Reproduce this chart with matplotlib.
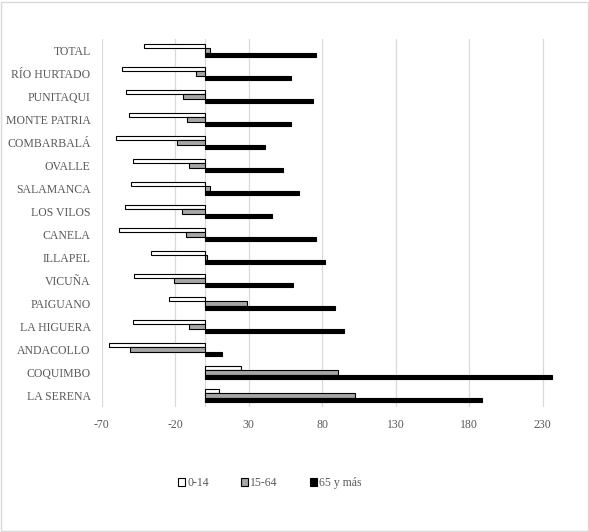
import matplotlib
matplotlib.use("Agg")
import matplotlib.pyplot as plt
from matplotlib.patches import Patch, Rectangle
import numpy as np

# Categories listed bottom to top
categories = ["LA SERENA", "COQUIMBO", "ANDACOLLO", "LA HIGUERA", "PAIGUANO",
              "VICUÑA", "ILLAPEL", "CANELA", "LOS VILOS", "SALAMANCA", "OVALLE",
              "COMBARBALÁ", "MONTE PATRIA", "PUNITAQUI", "RÍO HURTADO", "TOTAL"]
age_0_14 = [10, 25, -65, -49, -24, -48, -36.5, -58, -54, -50, -49, -60, -51.5, -53.5, -56, -41.5]
age_15_64 = [102.5, 90.5, -51, -10.5, 29, -21, 1.8, -12.5, -15.5, 3.5, -10.5, -19, -12, -15, -6, 3.5]
age_65_mas = [189, 236.5, 12, 95, 89, 60, 82, 76, 46, 64, 53, 41, 59, 74, 59, 76]
series_names = ["0-14", "15-64", "65 y más"]
xticks = [-70, -20, 30, 80, 130, 180, 230]

serif = ["Liberation Serif", "DejaVu Serif"]
txt_color = "#595959"
fs = 8.5

fig = plt.figure(figsize=(5.89, 5.32), dpi=100)
ax = fig.add_axes([0.1727, 0.235, 0.7986, 0.6917])

y = np.arange(len(categories))
h = 0.2
ax.barh(y + h, age_0_14, height=h, color="white", edgecolor="black", linewidth=0.8, zorder=3)
ax.barh(y, age_15_64, height=h, color="#a6a6a6", edgecolor="black", linewidth=0.8, zorder=3)
ax.barh(y - h, age_65_mas, height=h, color="black", edgecolor="black", linewidth=0.8, zorder=3)

ax.set_xlim(-70, 250)
ax.set_ylim(-0.5, len(categories) - 0.5)
ax.set_xticks(xticks)
ax.set_xticklabels([str(t) for t in xticks], fontfamily=serif, fontsize=fs, color=txt_color)
ax.set_yticks(y)
ax.set_yticklabels(categories, fontfamily=serif, fontsize=fs, color=txt_color)
ax.tick_params(axis="both", length=0)
ax.tick_params(axis="y", pad=8)
ax.tick_params(axis="x", pad=8.5)
ax.grid(axis="x", color="#d9d9d9", linewidth=0.9, zorder=0)
ax.axvline(0, color="#d9d9d9", linewidth=0.9, zorder=1)
for s in ax.spines.values():
    s.set_visible(False)

handles = [Patch(facecolor="white", edgecolor="black", linewidth=0.8),
           Patch(facecolor="#a6a6a6", edgecolor="black", linewidth=0.8),
           Patch(facecolor="black", edgecolor="black", linewidth=0.8)]
leg = fig.legend(handles, series_names, loc="center", bbox_to_anchor=(0.458, 0.092), ncol=3,
                 frameon=False, handlelength=0.6, handleheight=0.6, handletextpad=0.2,
                 columnspacing=2.7, prop={"family": serif, "size": fs})
for t in leg.get_texts():
    t.set_color(txt_color)

fig.patches.append(Rectangle((0.001, 0.002), 0.997, 0.995, transform=fig.transFigure,
                             fill=False, edgecolor="#d9d9d9", linewidth=1.0))

fig.savefig("out.png", dpi=100)
